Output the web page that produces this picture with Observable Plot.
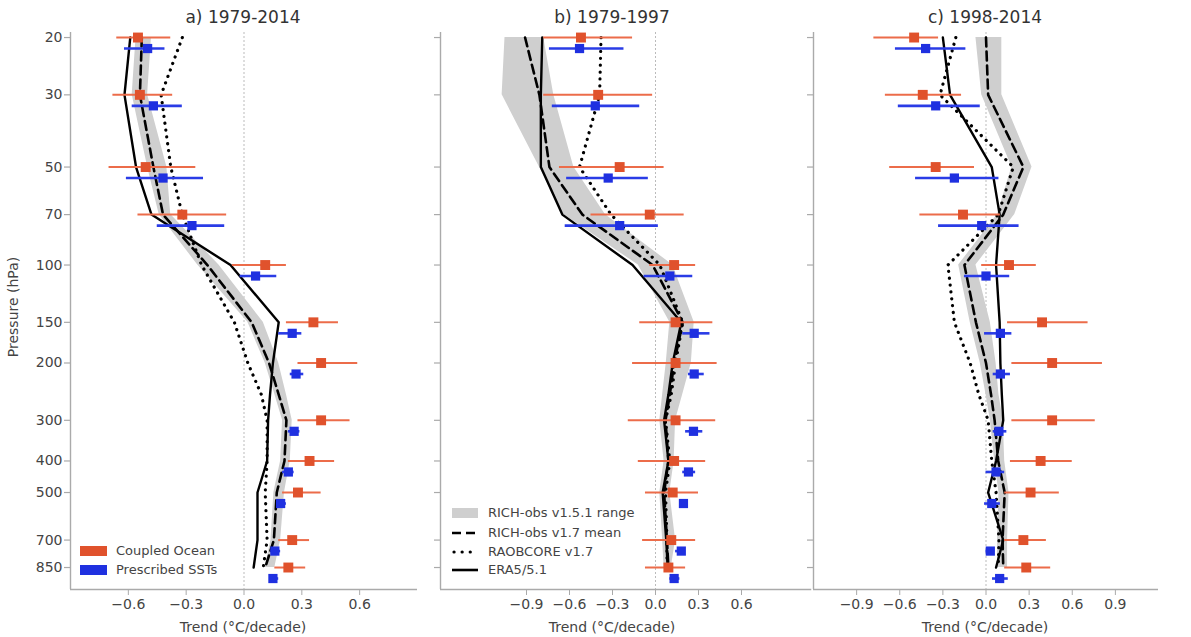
<!DOCTYPE html>
<html><head><meta charset="utf-8">
<script src="https://cdn.jsdelivr.net/npm/d3@7"></script>
<script src="https://cdn.jsdelivr.net/npm/@observablehq/plot@0.6"></script>
<style>
body{margin:0;background:#fff;font-family:"DejaVu Sans",sans-serif;}
#wrap{position:relative;width:1191px;height:637px;overflow:hidden;background:#fff}
.panel{position:absolute;top:0}
.title{position:absolute;top:7px;font-size:17px;color:#333;transform:translateX(-50%);white-space:nowrap}
.xlab{position:absolute;top:619px;font-size:14px;color:#444;transform:translateX(-50%);white-space:nowrap}
.ylab{position:absolute;left:13px;top:307px;font-size:14px;color:#444;transform:translate(-50%,-50%) rotate(-90deg);white-space:nowrap}
.legend{position:absolute;font-size:13px;color:#444}
.row{position:absolute;left:0;height:19px;display:flex;align-items:center;white-space:nowrap}
.row svg{margin-right:9px}
</style></head>
<body><div id="wrap"></div>
<script>
// ---------------- data ----------------
const levels = [20, 30, 50, 70, 100, 150, 200, 250, 300, 400, 500, 700, 850];   // obs/reanalysis levels
const modelLevels = [20, 30, 50, 70, 100, 150, 200, 300, 400, 500, 700, 850];   // model levels
const yTicks = [20, 30, 50, 70, 100, 150, 200, 300, 400, 500, 700, 850];

// Panel a) 1979-2014
const coupledA   = [-0.55, -0.54, -0.51, -0.32, 0.11, 0.36, 0.40, 0.40, 0.34, 0.28, 0.25, 0.23];
const coupledALo = [-0.66, -0.68, -0.70, -0.55, -0.06, 0.22, 0.28, 0.28, 0.23, 0.20, 0.18, 0.16];
const coupledAHi = [-0.38, -0.37, -0.25, -0.09, 0.22, 0.49, 0.59, 0.55, 0.47, 0.40, 0.34, 0.32];
const prescA     = [-0.50, -0.47, -0.42, -0.27, 0.06, 0.25, 0.27, 0.26, 0.23, 0.19, 0.16, 0.15];
const prescALo   = [-0.62, -0.58, -0.61, -0.45, -0.02, 0.18, 0.24, 0.23, 0.20, 0.17, 0.14, 0.14];
const prescAHi   = [-0.41, -0.32, -0.21, -0.10, 0.17, 0.30, 0.31, 0.29, 0.26, 0.22, 0.19, 0.18];
const eraA       = [-0.59, -0.62, -0.56, -0.48, -0.07, 0.18, 0.15, 0.135, 0.125, 0.12, 0.07, 0.07, 0.05];
const richA      = [-0.53, -0.54, -0.47, -0.42, -0.19, 0.04, 0.13, 0.18, 0.22, 0.21, 0.17, 0.155, 0.11];
const raobA      = [-0.32, -0.43, -0.38, -0.32, -0.22, -0.05, 0.02, 0.09, 0.12, 0.12, 0.11, 0.12, 0.10];
const bandALo    = [-0.56, -0.58, -0.50, -0.44, -0.24, 0.02, 0.11, 0.16, 0.20, 0.19, 0.155, 0.14, 0.11];
const bandAHi    = [-0.48, -0.50, -0.40, -0.38, -0.13, 0.10, 0.18, 0.22, 0.25, 0.24, 0.21, 0.19, 0.16];

// Panel b) 1979-1997
const coupledB   = [-0.52, -0.40, -0.25, -0.04, 0.13, 0.14, 0.14, 0.14, 0.13, 0.12, 0.11, 0.09];
const coupledBLo = [-0.78, -0.78, -0.67, -0.45, -0.04, -0.11, -0.16, -0.19, -0.12, -0.07, -0.09, -0.07];
const coupledBHi = [-0.16, -0.02, 0.06, 0.20, 0.28, 0.40, 0.43, 0.42, 0.35, 0.30, 0.28, 0.21];
const prescB     = [-0.53, -0.42, -0.33, -0.25, 0.10, 0.27, 0.27, 0.265, 0.23, 0.195, 0.18, 0.13];
const prescBLo   = [-0.74, -0.72, -0.62, -0.63, -0.08, 0.19, 0.23, 0.21, 0.19, 0.17, 0.14, 0.10];
const prescBHi   = [-0.22, -0.11, -0.05, 0.02, 0.26, 0.38, 0.34, 0.33, 0.28, 0.23, 0.21, 0.17];
const eraB       = [-0.79, -0.80, -0.80, -0.65, -0.16, 0.18, 0.12, 0.09, 0.06, 0.09, 0.05, 0.075, 0.085];
const richB      = [-0.91, -0.81, -0.74, -0.51, -0.02, 0.19, 0.13, 0.10, 0.07, 0.09, 0.06, 0.08, 0.09];
const raobB      = [-0.38, -0.39, -0.53, -0.31, 0.03, 0.19, 0.14, 0.11, 0.07, 0.10, 0.07, 0.08, 0.08];
const bandBLo    = [-1.05, -1.07, -0.81, -0.64, -0.12, 0.10, 0.075, 0.05, 0.03, 0.06, 0.03, 0.05, 0.06];
const bandBHi    = [-0.78, -0.71, -0.57, -0.35, 0.12, 0.27, 0.25, 0.19, 0.14, 0.13, 0.10, 0.14, 0.11];

// Panel c) 1998-2014
const coupledC   = [-0.50, -0.44, -0.35, -0.16, 0.16, 0.39, 0.46, 0.46, 0.38, 0.31, 0.26, 0.28];
const coupledCLo = [-0.78, -0.70, -0.67, -0.46, -0.03, 0.15, 0.18, 0.18, 0.17, 0.13, 0.13, 0.13];
const coupledCHi = [-0.33, -0.17, -0.08, 0.10, 0.35, 0.71, 0.81, 0.76, 0.60, 0.51, 0.42, 0.45];
const prescC     = [-0.42, -0.35, -0.22, -0.03, 0.00, 0.10, 0.10, 0.09, 0.07, 0.04, 0.03, 0.095];
const prescCLo   = [-0.63, -0.61, -0.49, -0.33, -0.15, -0.01, 0.05, 0.05, 0.00, -0.01, 0.00, 0.045];
const prescCHi   = [-0.14, -0.04, 0.09, 0.23, 0.165, 0.18, 0.17, 0.145, 0.13, 0.10, 0.06, 0.155];
const eraC       = [-0.30, -0.25, 0.04, 0.095, 0.07, 0.095, 0.10, 0.11, 0.12, 0.07, 0.015, 0.12, 0.07];
const richC      = [0.00, 0.015, 0.26, 0.12, -0.15, -0.07, 0.00, 0.035, 0.06, 0.085, 0.13, 0.115, 0.12];
const raobC      = [-0.21, -0.32, 0.19, 0.085, -0.265, -0.22, -0.11, -0.05, 0.015, 0.04, 0.07, 0.09, 0.085];
const bandCLo    = [-0.07, -0.03, 0.18, 0.08, -0.19, -0.11, -0.04, 0.00, 0.03, 0.06, 0.09, 0.08, 0.08];
const bandCHi    = [0.11, 0.11, 0.32, 0.20, -0.07, 0.03, 0.07, 0.09, 0.12, 0.13, 0.16, 0.15, 0.15];

const titles = ["a) 1979-2014", "b) 1979-1997", "c) 1998-2014"];
const xLabel = "Trend (°C/decade)";
const yLabel = "Pressure (hPa)";
const modelNames = ["Coupled Ocean", "Prescribed SSTs"];
const obsNames = ["RICH-obs v1.5.1 range", "RICH-obs v1.7 mean", "RAOBCORE v1.7", "ERA5/5.1"];

// ---------------- build ----------------
const ORANGE = "#e0522c", ORANGE_BAR = "#ec6c4a", BLUE = "#1f30e0", BLUE_BAR = "#2a3ce6", BAND = "#cfcfcf", SPINE = "#aaaaaa";
const yDomain = [19.3, 993];
const wrap = document.getElementById("wrap");

function series(ps, vals) { return ps.map((p, i) => ({p, v: vals[i]})); }
function errs(ps, v, lo, hi) { return ps.map((p, i) => ({p, v: v[i], lo: lo[i], hi: hi[i]})); }

function panel(cfg) {
  const band = levels.map((p, i) => ({p, lo: cfg.bandLo[i], hi: cfg.bandHi[i]}));
  const cp = errs(modelLevels, cfg.coupled, cfg.coupledLo, cfg.coupledHi);
  const ps = errs(modelLevels, cfg.presc, cfg.prescLo, cfg.prescHi);
  const x0 = cfg.xDomain[0];
  const marks = [
    Plot.ruleX([0], {stroke: "#bbbbbb", strokeWidth: 1, strokeDasharray: "2,2"}),
    Plot.areaX(band, {y: "p", x1: "lo", x2: "hi", fill: BAND}),
    Plot.line(series(levels, cfg.rich), {x: "v", y: "p", stroke: "#000", strokeWidth: 2.6, strokeDasharray: "9,5"}),
    Plot.line(series(levels, cfg.raob), {x: "v", y: "p", stroke: "#000", strokeWidth: 3.2, strokeDasharray: "0.1,6.8", strokeLinecap: "round"}),
    Plot.line(series(levels, cfg.era), {x: "v", y: "p", stroke: "#000", strokeWidth: 2.4}),
    Plot.ruleY(cp, {y: "p", x1: "lo", x2: "hi", stroke: ORANGE_BAR, strokeWidth: 2}),
    Plot.dot(cp, {x: "v", y: "p", symbol: "square", r: 5.6, fill: ORANGE}),
    Plot.ruleY(ps, {y: "p", x1: "lo", x2: "hi", stroke: BLUE_BAR, strokeWidth: 2.6, dy: 11}),
    Plot.dot(ps, {x: "v", y: "p", symbol: "square", r: 5.2, fill: BLUE, dy: 11}),
    // spines
    Plot.ruleX([x0], {stroke: SPINE, strokeWidth: 1.4}),
    Plot.ruleY([yDomain[1]], {x1: x0, x2: cfg.xEnd, stroke: SPINE, strokeWidth: 1.4}),
    // y ticks (drawn through the y scale)
    Plot.ruleY(yTicks, {y: d => d, x1: x0, x2: x0, insetLeft: -6, stroke: SPINE, strokeWidth: 1.2}),
    Plot.axisX({ticks: cfg.xTicks, tickSize: 6, tickPadding: 4, stroke: SPINE, fill: "#444", fontSize: 14,
      tickFormat: d3.format(".1f"), label: null})
  ];
  if (cfg.showY) {
    marks.push(Plot.text(yTicks, {x: () => x0, y: d => d, text: d => String(d), dx: -8, textAnchor: "end",
      fontSize: 14, fill: "#444"}));
  }
  const chart = Plot.plot({
    width: cfg.width, height: 637,
    marginLeft: cfg.mL, marginRight: cfg.mR, marginTop: 32, marginBottom: 48,
    style: {fontFamily: "DejaVu Sans, sans-serif", fontSize: "14px", background: "transparent", overflow: "visible"},
    x: {domain: cfg.xDomain},
    y: {type: "log", domain: yDomain, reverse: true, axis: null},
    marks
  });
  chart.classList.add("panel");
  chart.style.left = cfg.left + "px";
  wrap.appendChild(chart);

  const t = document.createElement("div");
  t.className = "title"; t.textContent = cfg.title; t.style.left = cfg.center + "px";
  wrap.appendChild(t);
  const xl = document.createElement("div");
  xl.className = "xlab"; xl.textContent = xLabel; xl.style.left = cfg.center + "px";
  wrap.appendChild(xl);
}

panel({title: titles[0], left: 0, width: 420, mL: 70, mR: 3, center: 243,
  xDomain: [-0.9, 0.9], xEnd: 0.9, xTicks: [-0.6, -0.3, 0, 0.3, 0.6], showY: true,
  coupled: coupledA, coupledLo: coupledALo, coupledHi: coupledAHi,
  presc: prescA, prescLo: prescALo, prescHi: prescAHi,
  era: eraA, rich: richA, raob: raobA, bandLo: bandALo, bandHi: bandAHi});
panel({title: titles[1], left: 420, width: 395, mL: 20, mR: 31, center: 612,
  xDomain: [-1.5, 0.9], xEnd: 1.09, xTicks: [-0.9, -0.6, -0.3, 0, 0.3, 0.6], showY: false,
  coupled: coupledB, coupledLo: coupledBLo, coupledHi: coupledBHi,
  presc: prescB, prescLo: prescBLo, prescHi: prescBHi,
  era: eraB, rich: richB, raob: raobB, bandLo: bandBLo, bandHi: bandBHi});
panel({title: titles[2], left: 800, width: 391, mL: 13, mR: 33, center: 985,
  xDomain: [-1.2, 1.2], xEnd: 1.2, xTicks: [-0.9, -0.6, -0.3, 0, 0.3, 0.6, 0.9], showY: false,
  coupled: coupledC, coupledLo: coupledCLo, coupledHi: coupledCHi,
  presc: prescC, prescLo: prescCLo, prescHi: prescCHi,
  era: eraC, rich: richC, raob: raobC, bandLo: bandCLo, bandHi: bandCHi});

// y label
const yl = document.createElement("div");
yl.className = "ylab"; yl.textContent = yLabel; wrap.appendChild(yl);

// legends
function legend(left, top, items) {
  const L = document.createElement("div");
  L.className = "legend"; L.style.left = left + "px"; L.style.top = top + "px";
  items.forEach((it, i) => {
    const r = document.createElement("div");
    r.className = "row"; r.style.top = (it.dy !== undefined ? it.dy : i * 19) + "px";
    r.innerHTML = `<svg width="27" height="12">${it.swatch}</svg><span>${it.label}</span>`;
    L.appendChild(r);
  });
  wrap.appendChild(L);
}
legend(80, 541, [
  {label: modelNames[0], swatch: `<rect x="0" y="1" width="27" height="10" fill="${ORANGE}"/>`},
  {label: modelNames[1], swatch: `<rect x="0" y="1" width="27" height="10" fill="${BLUE}"/>`}
]);
legend(452, 503, [
  {label: obsNames[0], swatch: `<rect x="0" y="1" width="26" height="10" fill="${BAND}"/>`},
  {label: obsNames[1], dy: 20, swatch: `<line x1="0" y1="6" x2="26" y2="6" stroke="#000" stroke-width="2.6" stroke-dasharray="9,5"/>`},
  {label: obsNames[2], dy: 39, swatch: `<line x1="2" y1="6" x2="26" y2="6" stroke="#000" stroke-width="3.2" stroke-dasharray="0.1,8" stroke-linecap="round"/>`},
  {label: obsNames[3], dy: 57, swatch: `<line x1="0" y1="6" x2="26" y2="6" stroke="#000" stroke-width="2.6"/>`}
]);
</script>
</body></html>
